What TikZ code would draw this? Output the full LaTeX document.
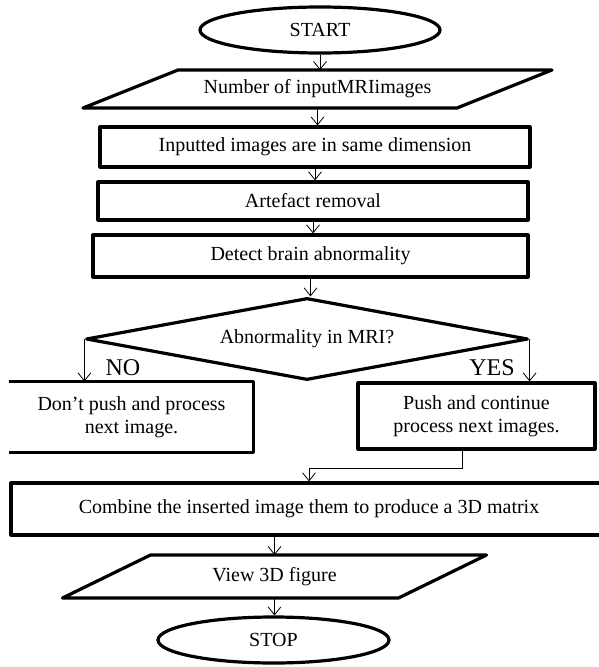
\documentclass[tikz,border=0pt]{standalone}
\usepackage{fontspec}
\setmainfont{Liberation Serif}
\usetikzlibrary{shapes.geometric,arrows.meta}
\begin{document}
\begin{tikzpicture}[x=1pt,y=-1pt,line join=round,
>={Straight Barb[length=8pt,width=13pt]},
font=\fontsize{20}{23}\selectfont,
khoi/.style={draw,line width=3.2pt,rectangle,inner sep=0pt,align=center},
elip/.style={draw,line width=3.2pt,ellipse,inner sep=0pt},
binhhanh/.style={rectangle,inner sep=0pt,outer sep=0pt},
thoi/.style={draw,line width=3.2pt,diamond,inner sep=0pt},
nhan/.style={font=\fontsize{24}{28}\selectfont,inner sep=0pt},
muiten/.style={->,line width=0.8pt}]
\useasboundingbox (0,0) rectangle (598,667);
\node[elip,minimum width=240,minimum height=46] (batdau) at (320,30) {START};
\node[binhhanh,minimum width=374,minimum height=38] (nhap) at (317.5,89) {Number of inputMRIimages};
\node[khoi,minimum width=430,minimum height=40] (b1) at (315,147) {Inputted images are in same dimension};
\node[khoi,minimum width=430,minimum height=38] (b2) at (313,201) {Artefact removal};
\node[khoi,minimum width=435,minimum height=42] (b3) at (310.5,256) {Detect brain abnormality};
\node[thoi,aspect=5.4,minimum width=442,minimum height=82] (hoi) at (307,339) {Abnormality in MRI?};
\node[khoi,draw=none,minimum width=241,minimum height=68] (khong) at (131.5,417) {Don't push and process\\next image.};
\draw[line width=3.2pt] (khong.north west) -- (khong.north east) -- (khong.south east) -- (khong.south west);
\node[khoi,minimum width=237,minimum height=66] (co) at (476.5,416) {Push and continue\\process next images.};
\node[khoi,minimum width=596,minimum height=52] (gop) at (309,509) {Combine the inserted image them to produce a 3D matrix};
\node[binhhanh,minimum width=336,minimum height=43] (xem) at (274.5,576.5) {View 3D figure};
\node[elip,minimum width=231,minimum height=46] (ketthuc) at (273.5,640) {STOP};
\node[nhan] (nhanko) at (123,368) {NO};
\node[nhan] (nhanco) at (492,368) {YES};
% hinh binh hanh
\foreach \n/\d in {nhap/47.5,xem/44}
\draw[line width=3.2pt] ([xshift=-\d pt]\n.south west) -- ([xshift=\d pt]\n.north west)
  -- ([xshift=\d pt]\n.north east) -- ([xshift=-\d pt]\n.south east) -- cycle;
% cac mui ten
\foreach \tren/\duoi in {batdau/nhap,nhap/b1,b1/b2,b2/b3,b3/hoi}
\draw[muiten] (\tren.south) -- (\tren.south |- \duoi.north);
\draw[muiten] (hoi.west) -- (hoi.west |- khong.north);
\draw[muiten] (hoi.east) -- (hoi.east |- co.north);
\draw[muiten] ([xshift=-14.5pt]co.south) |- ([yshift=13pt]gop.north) -- (gop.north);
\draw[muiten] (gop.south -| xem.north) -- (xem.north);
\draw[muiten] (xem.south) -- (xem.south |- ketthuc.north);
\end{tikzpicture}
\end{document}
